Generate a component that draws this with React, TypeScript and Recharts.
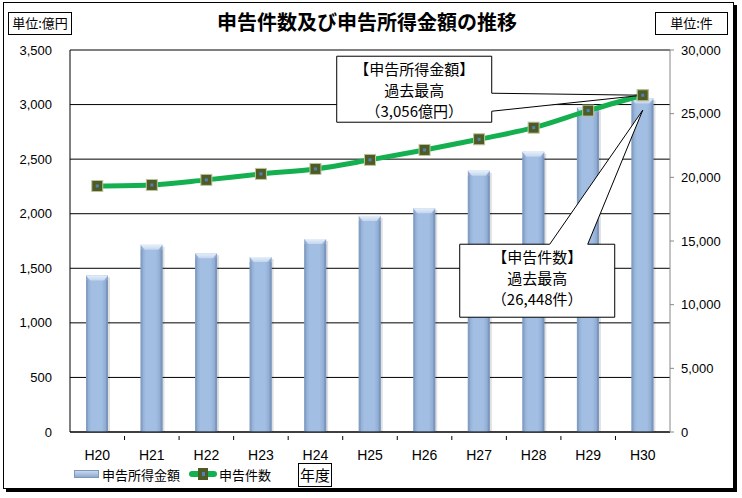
import React from 'react';
import { ComposedChart, Bar, Line, XAxis, YAxis, CartesianGrid, ReferenceDot } from 'recharts';

const years = ['H20', 'H21', 'H22', 'H23', 'H24', 'H25', 'H26', 'H27', 'H28', 'H29', 'H30'];
// 申告所得金額 (億円)
const incomeAmount = [1435, 1715, 1638, 1603, 1768, 1980, 2050, 2394, 2568, 2975, 3056];
// 申告件数 (件)
const filingCount = [19320, 19400, 19800, 20270, 20660, 21370, 22150, 22990, 23900, 25240, 26448];
const leftTicks = [0, 500, 1000, 1500, 2000, 2500, 3000, 3500];
const rightTicks = [0, 5000, 10000, 15000, 20000, 25000, 30000];

const data = years.map((y, i) => ({ year: y, amount: incomeAmount[i], count: filingCount[i] }));

const W = 742;
const H = 498;
const JP = '"Noto Sans CJK JP", "Noto Sans", sans-serif';
const NUM = '"Liberation Sans", Arial, sans-serif';
const fmt = (v: number) => v.toLocaleString('en-US');

const BarShape = (props: any) => {
  const { x, y, width, height } = props;
  if (!height || height <= 0) return null;
  const b = 4;
  return (
    <g>
      <rect x={x + 2} y={y + 2} width={width} height={height - 2} fill="#000" opacity={0.12} />
      <rect x={x} y={y} width={width} height={height} fill="url(#barGrad)" />
      <polygon
        points={`${x},${y} ${x + width},${y} ${x + width - b},${y + b + 1} ${x + b},${y + b + 1}`}
        fill="url(#barTop)"
      />
      <rect x={x} y={y + b + 1} width={2} height={height - b - 1} fill="#7D97BD" opacity={0.6} />
      <rect x={x + width - 2} y={y + b + 1} width={2} height={height - b - 1} fill="#7590B8" opacity={0.7} />
    </g>
  );
};

const Marker = (props: any) => {
  const { cx, cy } = props;
  if (cx == null || cy == null) return null;
  return (
    <g>
      <rect x={cx - 5.5} y={cy - 5.5} width={11} height={11} fill="#4F5B24" stroke="#BCC59A" strokeWidth={1} />
      <rect x={cx - 1.5} y={cy - 1.5} width={3} height={3} fill="#4F81BD" />
    </g>
  );
};

const XTick = (props: any) => {
  const { x, y, payload, index } = props;
  const band = (W - 8 - 64 - 70) / years.length;
  return (
    <g>
      {index < years.length - 1 && (
        <line x1={x + band / 2} x2={x + band / 2} y1={y - 4} y2={y} stroke="#000" />
      )}
      <text x={x} y={y + 10} dy="0.71em" textAnchor="middle" fontFamily={NUM} fontSize={14} fill="#000">
        {payload.value}
      </text>
    </g>
  );
};

const Callouts = (props: any) => {
  const { cx, cy } = props;
  if (cx == null || cy == null) return null;
  const a = { x1: cx - 306, x2: cx - 151, y1: cy - 39, y2: cy + 27 };
  const c = { x1: cx - 183, x2: cx - 28, y1: cy + 149, y2: cy + 222 };
  const p1 = [
    [a.x1, a.y1], [a.x2, a.y1], [a.x2, cy - 2], [cx, cy], [a.x2, cy + 16], [a.x2, a.y2], [a.x1, a.y2],
  ];
  const p2 = [
    [c.x1, c.y1], [cx - 93, c.y1], [cx, cy + 15], [cx - 55, c.y1], [c.x2, c.y1], [c.x2, c.y2], [c.x1, c.y2],
  ];
  const txt = (lines: string[], box: any) => {
    const mx = (box.x1 + box.x2) / 2;
    return lines.map((l, i) => (
      <text key={i} x={mx} y={box.y1 + 19 + i * 21} textAnchor="middle" fontFamily={JP} fontSize={15} fill="#000">
        {l}
      </text>
    ));
  };
  return (
    <g>
      <polygon points={p1.map((p) => p.join(',')).join(' ')} fill="#fff" stroke="#000" strokeWidth={1} />
      {txt(['【申告所得金額】', '過去最高', '（3,056億円）'], a)}
      <polygon points={p2.map((p) => p.join(',')).join(' ')} fill="#fff" stroke="#000" strokeWidth={1} />
      {txt(['【申告件数】', '過去最高', '（26,448件）'], c)}
      <Marker cx={cx} cy={cy} />
    </g>
  );
};

const boxStyle: React.CSSProperties = {
  position: 'absolute',
  border: '1px solid #000',
  background: '#fff',
  fontFamily: JP,
  fontSize: 13,
  lineHeight: '20px',
  textAlign: 'center',
  boxSizing: 'border-box',
};

export default function App() {
  return (
    <div style={{ position: 'absolute', left: 0, top: 0, width: W, height: H, background: '#fff' }}>
      <div
        style={{
          position: 'absolute', left: 3, top: 2, width: 731, height: 487,
          border: '1px solid #000', boxShadow: '3px 3px 0 #000', boxSizing: 'border-box',
        }}
      />
      <div
        style={{
          position: 'absolute', left: 0, top: 9, width: 734, textAlign: 'center',
          fontFamily: JP, fontWeight: 'bold', fontSize: 20, lineHeight: '26px',
        }}
      >
        申告件数及び申告所得金額の推移
      </div>
      <div style={{ ...boxStyle, left: 8, top: 12, width: 64, height: 23 }}>単位:億円</div>
      <div style={{ ...boxStyle, left: 655, top: 12, width: 73, height: 23 }}>単位:件</div>

      <div style={{ position: 'absolute', left: 0, top: 0 }}>
        <ComposedChart width={W} height={H} data={data} margin={{ top: 50, right: 8, left: 0, bottom: 38 }}>
          <defs>
            <linearGradient id="barGrad" x1="0" y1="0" x2="1" y2="0">
              <stop offset="0" stopColor="#8AA5CB" />
              <stop offset="0.25" stopColor="#A2BEE3" />
              <stop offset="0.7" stopColor="#A2BEE3" />
              <stop offset="1" stopColor="#86A2C9" />
            </linearGradient>
            <linearGradient id="barTop" x1="0" y1="0" x2="0" y2="1">
              <stop offset="0" stopColor="#E6EFFA" />
              <stop offset="1" stopColor="#C3D6EE" />
            </linearGradient>
          </defs>
          <CartesianGrid vertical={false} stroke="#000" strokeWidth={1} yAxisId="left" />
          <XAxis
            dataKey="year"
            height={28}
            axisLine={{ stroke: '#000' }}
            tickLine={false}
            tick={<XTick />}
            interval={0}
          />
          <YAxis
            yAxisId="left"
            orientation="left"
            width={70}
            domain={[0, 3500]}
            ticks={leftTicks}
            tickFormatter={fmt}
            axisLine={{ stroke: '#000' }}
            tickLine={false}
            tickSize={0}
            tickMargin={18}
            tick={{ fontFamily: NUM, fontSize: 13, fill: '#000' }}
          />
          <YAxis
            yAxisId="right"
            orientation="right"
            width={64}
            domain={[0, 30000]}
            ticks={rightTicks}
            tickFormatter={fmt}
            axisLine={{ stroke: '#888' }}
            tickLine={{ stroke: '#888' }}
            tickSize={4}
            tickMargin={7}
            tick={{ fontFamily: NUM, fontSize: 13, fill: '#000' }}
          />
          <Bar yAxisId="left" dataKey="amount" barSize={22} shape={<BarShape />} isAnimationActive={false} />
          <Line
            yAxisId="right"
            type="monotone"
            dataKey="count"
            stroke="#14B050"
            strokeWidth={5}
            dot={<Marker />}
            activeDot={false}
            isAnimationActive={false}
          />
          <ReferenceDot
            yAxisId="right"
            x="H30"
            y={filingCount[filingCount.length - 1]}
            shape={<Callouts />}
            ifOverflow="visible"
          />
        </ComposedChart>
      </div>

      {/* legend */}
      <div style={{ position: 'absolute', left: 74, top: 464, height: 20, display: 'flex', alignItems: 'center', fontFamily: JP, fontSize: 13 }}>
        <span
          style={{
            display: 'inline-block', width: 23, height: 6, marginRight: 3,
            background: 'linear-gradient(#C9D9EE, #8FA9CE)', border: '1px solid #7D97BD',
          }}
        />
        <span>申告所得金額</span>
        <span style={{ position: 'relative', display: 'inline-block', width: 28, height: 12, marginLeft: 9, marginRight: 2 }}>
          <span style={{ position: 'absolute', left: 0, top: 3, width: 28, height: 6, borderRadius: 3, background: '#14B050' }} />
          <span style={{ position: 'absolute', left: 9, top: 0, width: 10, height: 12, background: '#4F5B24' }} />
          <span style={{ position: 'absolute', left: 13, top: 4, width: 3, height: 4, background: '#4F81BD' }} />
        </span>
        <span>申告件数</span>
      </div>
      <div style={{ ...boxStyle, left: 298, top: 463, width: 34, height: 24, fontSize: 15, lineHeight: '22px' }}>年度</div>
    </div>
  );
}
